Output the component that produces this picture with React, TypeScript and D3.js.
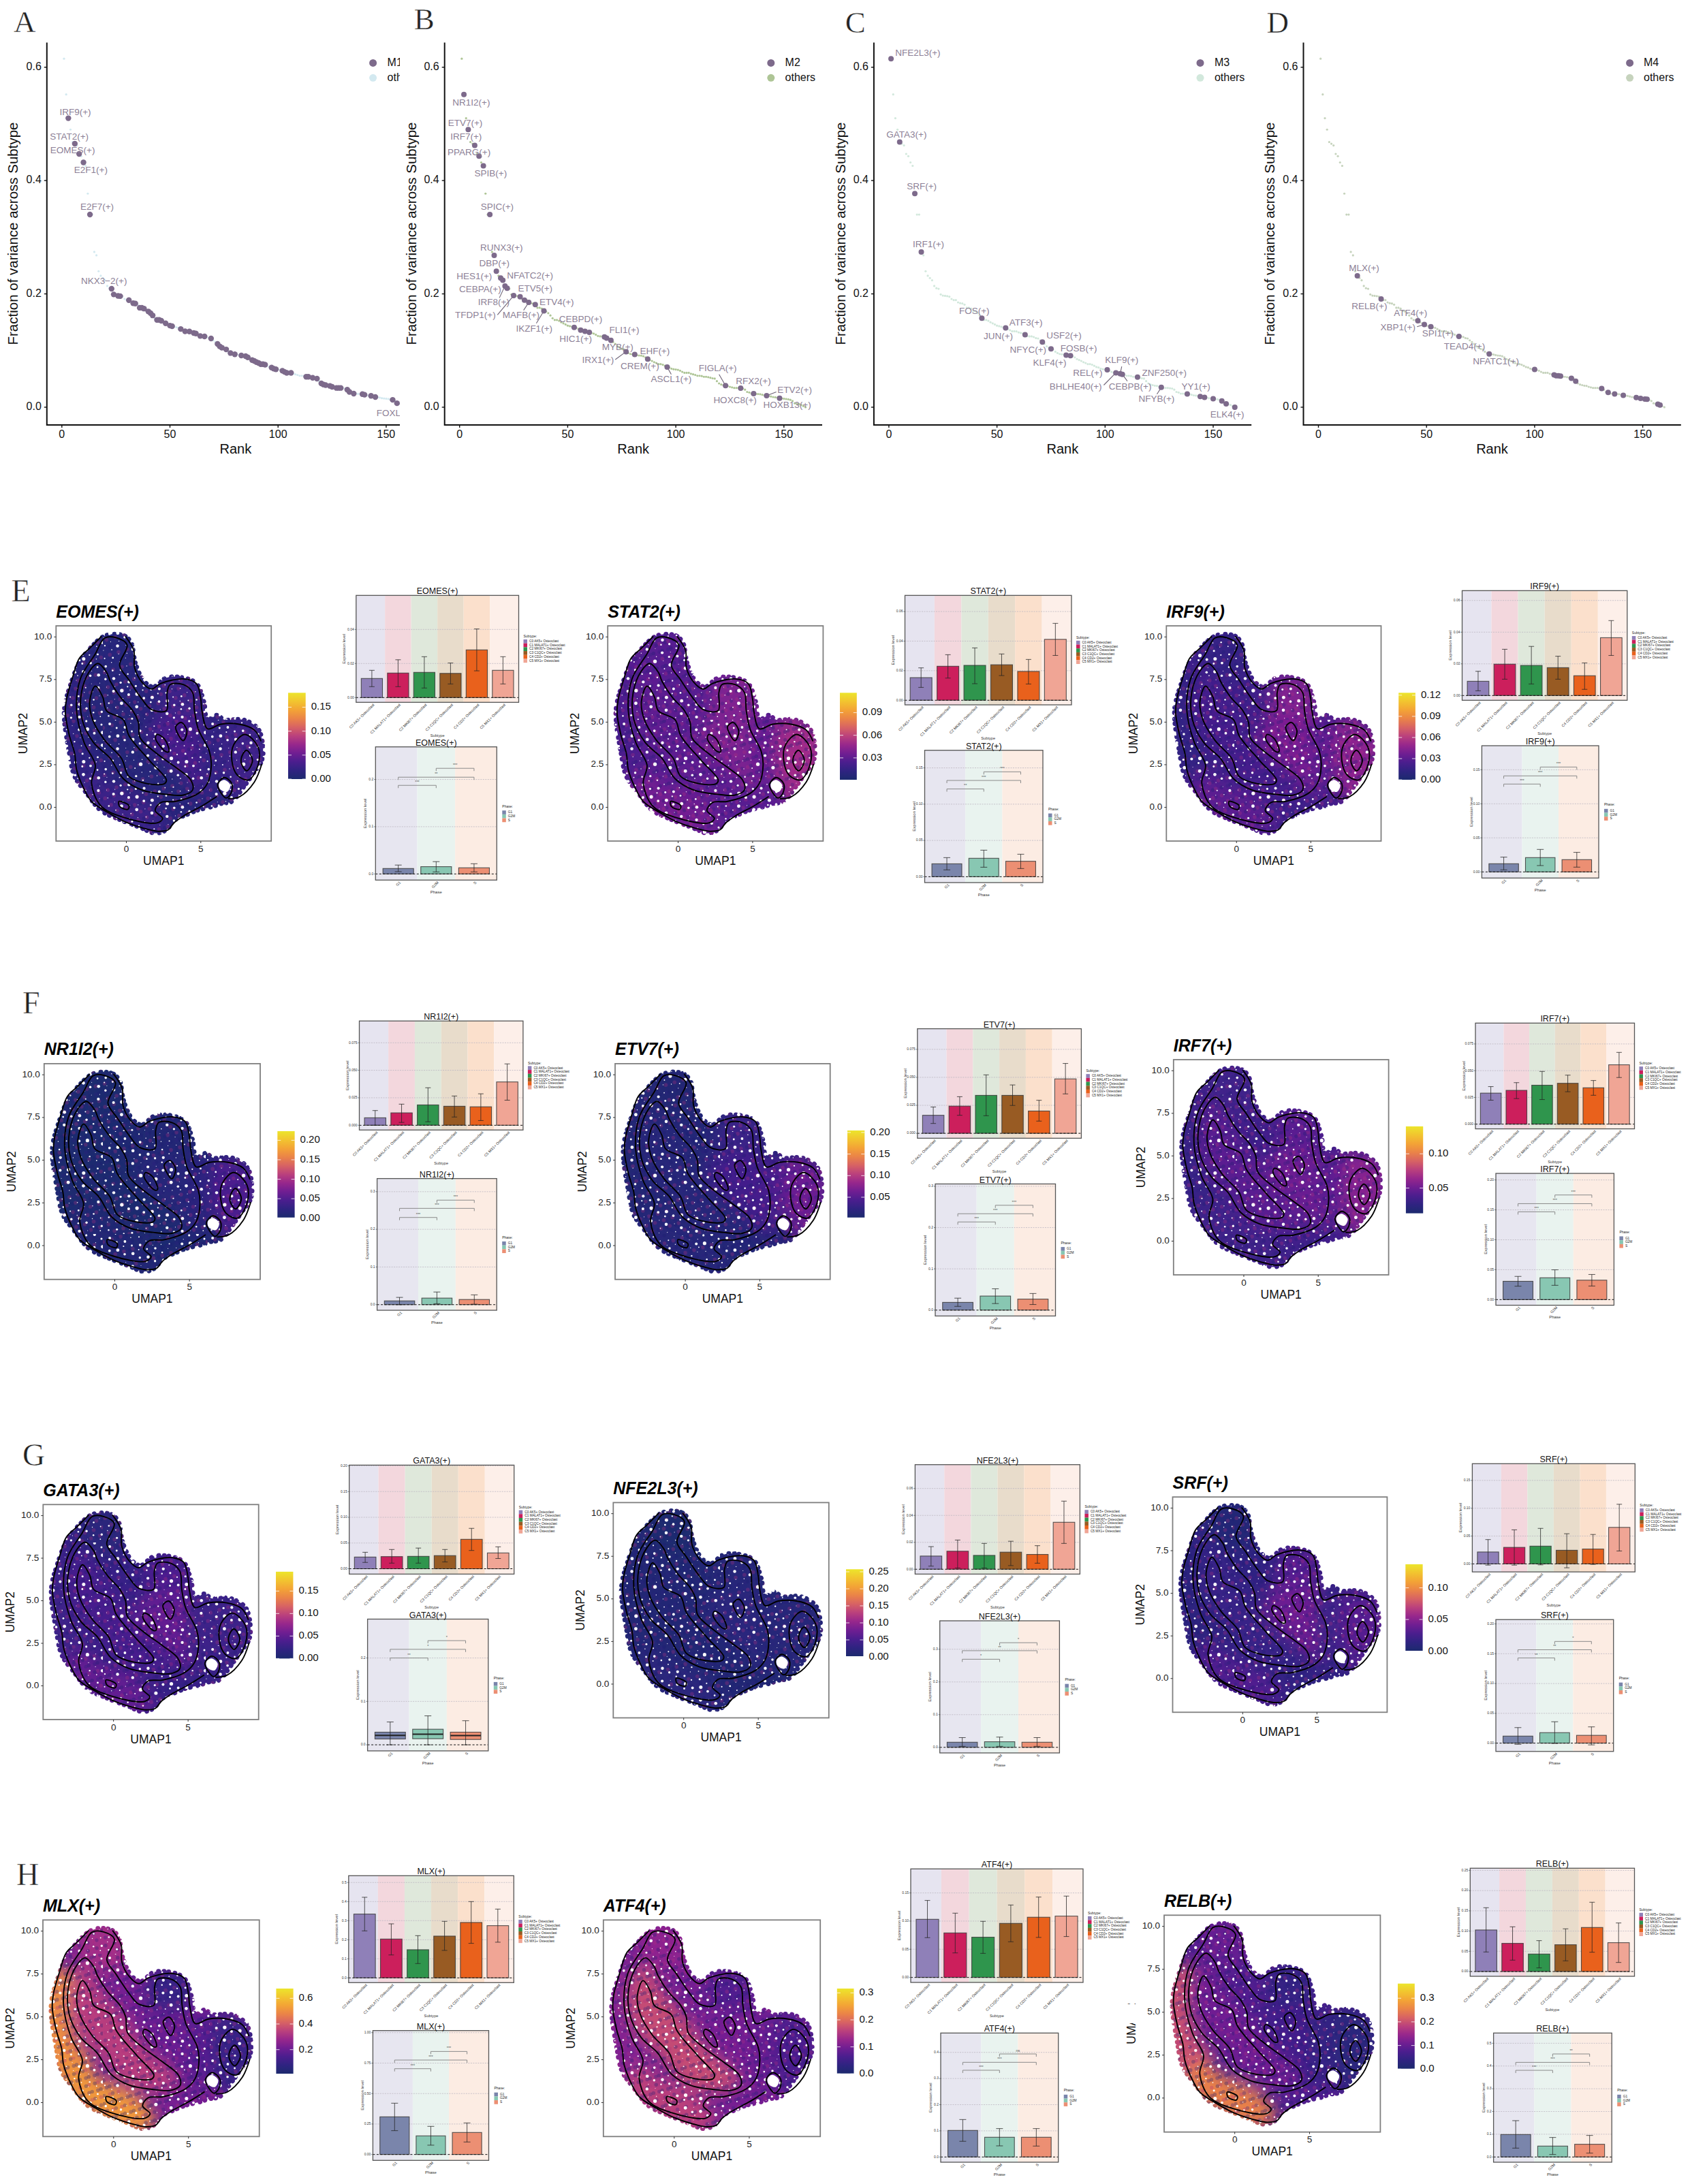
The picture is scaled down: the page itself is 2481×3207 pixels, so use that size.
import React from "react";
import * as d3 from "d3";

// ---------- shared data ----------
const variance = [
  .615,.552,.51,.49,.468,.465,.462,.447,.443,.432,
  .426,.377,.34,.34,.274,.268,.24,.232,.228,.224,
  .214,.21,.209,.199,.197,.1965,.196,.195,.191,.189,
  .189,.185,.1836,.183,.181,.1755,.1755,.174,.17,.169,
  .166,.162,.157,.154,.154,.1525,.15,.148,.146,.144,
  .143,.142,.141,.14,.138,.136,.134,.134,.1337,.132,
  .131,.13,.128,.1257,.125,.125,.124,.122,.1213,.118,
  .115,.1117,.1074,.105,.103,.102,.098,.0956,.094,.0934,
  .093,.092,.0913,.091,.09,.088,.085,.0832,.0816,.0795,
  .078,.076,.076,.075,.073,.071,.07,.068,.067,.0665,
  .066,.0644,.0623,.0607,.0607,.0607,.059,.058,.057,.0555,
  .0555,.055,.0537,.0537,.053,.052,.051,.0505,.046,.042,
  .04,.039,.038,.0376,.036,.035,.034,.034,.034,.0335,
  .033,.031,.027,.026,.024,.024,.0235,.0233,.023,.022,
  .021,.0205,.02,.019,.018,.0175,.017,.016,.0155,.015,
  .0145,.014,.013,.011,.007,.006,.0055,.004,.002,0,
];
const m1Ranks = [3,6,8,10,13,23,24,26,27,31,33,34,36,37,38,40,41,42,44,45,46,48,50,51,55,57,59,61,62,64,66,69,72,73,74,76,78,80,83,85,86,88,89,90,91,92,93,94,97,98,99,102,103,104,106,113,114,116,118,120,121,122,124,125,127,128,129,132,133,135,139,140,143,145,153,155];
const m2Ranks = [2,4,7,9,11,14,16,17,19,20,21,22,25,28,30,32,35,39,53,56,58,60,67,68,70,77,81,87,96,123,130,136,142,148];
const m3Ranks = [1,5,12,15,43,54,63,71,75,82,84,101,105,107,108,115,126,138,144,146,150,154,156,160];
const m4Ranks = [18,29,46,49,52,65,79,100,109,110,111,112,117,119,131,134,137,141,147,149,151,152,157,158];

type Lab = [string, number, number, number, number?, number?];
const m1Labels: Lab[] = [["IRF9(+)",3,6.2,.52],["STAT2(+)",6,3.4,.477],["EOMES(+)",8,5,.452],["E2F1(+)",10,13.4,.418],["E2F7(+)",13,16.3,.353],["NKX3\u22122(+)",23,19.5,.222],["FOXL1(+)",155,154.9,-.011]];
const m2Labels: Lab[] = [["NR1I2(+)",2,5.4,.537],["ETV7(+)",4,2.6,.501],["IRF7(+)",7,3,.476],["PPARG(+)",9,4.4,.449],["SPIB(+)",11,14.4,.412],["SPIC(+)",14,17.4,.353],["RUNX3(+)",16,19.4,.281],["DBP(+)",17,16.1,.253],["HES1(+)",19,6.8,.23],["NFATC2(+)",20,32.6,.231],["CEBPA(+)",21,9.5,.207,18.4,.193],["ETV5(+)",28,35,.208],["IRF8(+)",22,15.8,.184],["ETV4(+)",35,44.9,.185],["TFDP1(+)",25,7.3,.162,17.5,.163],["MAFB(+)",32,28.4,.162,29.6,.171],["IKZF1(+)",39,34.5,.138,35.5,.148],["CEBPD(+)",53,56,.154],["HIC1(+)",56,53.7,.12],["FLI1(+)",68,76.2,.135],["MYB(+)",70,73.1,.105],["IRX1(+)",77,64,.082,72,.084],["EHF(+)",87,90.3,.098],["CREM(+)",81,83.4,.072],["ASCL1(+)",96,97.9,.049,97.9,.058],["FIGLA(+)",123,119.4,.068,120,.058],["RFX2(+)",130,135.9,.045],["ETV2(+)",142,155,.029,146.5,.027],["HOXC8(+)",136,127.4,.011],["HOXB13(+)",148,151.5,.003]];
const m3Labels: Lab[] = [["NFE2L3(+)",1,13.4,.624],["GATA3(+)",5,8.2,.48],["SRF(+)",12,15.2,.389],["IRF1(+)",15,18.3,.287],["FOS(+)",43,39.5,.169],["ATF3(+)",54,63.4,.149],["JUN(+)",63,50.6,.125],["USF2(+)",71,81,.126],["NFYC(+)",75,64.4,.1],["FOSB(+)",84,87.8,.103],["KLF4(+)",82,74.4,.077],["REL(+)",101,92,.059],["KLF9(+)",107,107.7,.082,107.7,.072],["BHLHE40(+)",105,86.4,.036,99.4,.039],["CEBPB(+)",108,111.6,.036,110.3,.046],["ZNF250(+)",115,127.4,.059],["NFYB(+)",126,123.8,.014,124,.023],["YY1(+)",138,142,.036],["ELK4(+)",160,156.5,-.014]];
const m4Labels: Lab[] = [["MLX(+)",18,21.1,.244],["RELB(+)",29,23.6,.177],["ATF4(+)",46,42.6,.165],["XBP1(+)",49,36.8,.14,45.6,.142],["SPI1(+)",52,55.2,.129],["TEAD4(+)",65,67.6,.106],["NFATC1(+)",79,82.1,.08]];

const rankTicks = [0,50,100,150];
const fractionTicks = [0,.2,.4,.6];
const moduleNames = ["M1","M2","M3","M4"];

const subtypes = ["C0 AK5+ Osteoclast","C1 MALAT1+ Osteoclast","C2 MKI67+ Osteoclast","C3 C1QC+ Osteoclast","C4 CD2+ Osteoclast","C5 MX1+ Osteoclast"];
const phases = ["G1","G2M","S"];
const genes = ["EOMES(+)","STAT2(+)","IRF9(+)","NR1I2(+)","ETV7(+)","IRF7(+)","GATA3(+)","NFE2L3(+)","SRF(+)","MLX(+)","ATF4(+)","RELB(+)"];

const subtypeMean = [[.0112,.0144,.0148,.0142,.028,.016],[.0153,.023,.0236,.024,.0195,.0412],[.009,.0198,.019,.0176,.0125,.0365],[.0068,.0113,.0185,.0173,.0168,.0394],[.0161,.0243,.0339,.0339,.0199,.0486],[.029,.0316,.0364,.0382,.034,.0555],[.0227,.0236,.0241,.0255,.0572,.0307],[.0098,.0134,.0103,.0127,.011,.0349],[.0214,.0297,.0319,.0245,.0267,.0656],[.3345,.2036,.1476,.219,.2905,.2738],[.1032,.079,.0714,.096,.1069,.1089],[.1027,.0696,.0432,.0662,.1089,.0713]];
const subtypeLow = [[.0064,.0064,.0056,.008,.0157,.008],[.0087,.015,.0112,.0167,.011,.0303],[.003,.0103,.0073,.0103,.0039,.0253],[0,.0026,.0032,.0075,.0043,.0228],[.0088,.0161,.0157,.0249,.0109,.0352],[.0224,.0239,.023,.0303,.027,.0436],[.0123,.0109,.0109,.0132,.0355,.0199],[.0023,.0009,.0009,.0027,.0045,.0192],[-.0022,-.0022,-.0017,-.007,-.0009,.0232],[.2464,.1202,.075,.144,.181,.187],[.0706,.0435,.0427,.0633,.071,.0726],[.0483,.0281,.009,.0264,.0477,.0224]];
const subtypeHigh = [[.016,.0222,.024,.0203,.0403,.024],[.0219,.0308,.0354,.0313,.0276,.052],[.0153,.0292,.031,.0248,.0206,.0473],[.0134,.0192,.0341,.0266,.0286,.0558],[.0235,.0327,.0522,.0432,.0295,.0624],[.0351,.0388,.0493,.0458,.0408,.0671],[.032,.0374,.0402,.0374,.0785,.0426],[.0168,.0217,.0192,.0208,.0175,.0506],[.0437,.0612,.0638,.0542,.0529,.1071],[.4226,.2833,.2214,.2964,.4,.3607],[.1367,.1141,.0996,.1286,.1427,.1444],[.1577,.1105,.0763,.1055,.1712,.12]];
const phaseMean = [[.0115,.0154,.013],[.0178,.0254,.0213],[.012,.021,.018],[.01,.0174,.0137],[.0188,.0341,.0267],[.0306,.0365,.0325],[.0291,.0359,.0291],[.0156,.0171,.0156],[.0118,.0176,.0131],[.309,.1527,.1806],[.1016,.0755,.0755],[.0988,.0479,.0559]];
const phaseLow = [[.0048,.0043,.0043],[.0094,.0131,.0113],[.003,.0093,.007],[0,.0025,.0012],[.0091,.0159,.0136],[.0224,.0239,.0227],[0,0,0],[.003,.003,.003],[-.002,-.0004,-.0029],[.1955,.0764,.1024],[.06,.0425,.0417],[.0389,.011,.017]];
const phaseHigh = [[.0188,.026,.0216],[.0263,.0366,.031],[.0217,.033,.0287],[.0193,.0336,.026],[.029,.0517,.0403],[.0388,.0498,.042],[.0526,.0667,.0555],[.0298,.0313,.0298],[.0261,.0359,.0273],[.4209,.231,.2588],[.1432,.1085,.1085],[.1597,.0858,.0948]];
const gata3BoxLow = [.0134,.014,.0123];
const gata3BoxMid = [.0218,.0246,.0213];
const bracketLevels = [[.1875,.2048,.2236],[.121,.1327,.1446],[.129,.141,.154],[.2315,.2557,.2775],[.2136,.2335,.254],[.1467,.1604,.1749],[.2,.22,.24],[.2695,.2956,.32],[.1429,.1567,.1706],[.704,.775,.8455],[.3316,.362,.394],[.381,.416,.453]];
const bracketStars = [["***","**","***"],["**","***","***"],["***","***","***"],["***","***","***"],["***","***","***"],["***","***","***"],["**","*","*"],["*","**","*"],["**","**","*"],["***","***","***"],["***","***","ns"],["***","***","**"]];

const topDomains = [[-.0028,.06],[-.0031,.0709],[-.003,.0662],[-.0043,.0948],[-.0044,.0934],[-.0044,.0945],[-.0104,.2014],[-.0036,.0777],[-.0144,.18],[-.025,.5357],[-.0089,.1927],[-.0118,.2553]];
const topTicks = [[0,.02,.04],[0,.02,.04,.06],[0,.02,.04,.06],[0,.025,.05,.075],[0,.025,.05,.075],[0,.025,.05,.075],[0,.05,.1,.15,.2],[0,.02,.04,.06],[0,.05,.1,.15],[0,.1,.2,.3,.4,.5],[0,.05,.1,.15],[0,.05,.1,.15,.2,.25]];
const topDigits = [2,2,2,3,3,3,2,2,2,1,2,2];
const bottomDomains = [[-.013,.269],[-.0081,.1743],[-.009,.1853],[-.0149,.3348],[-.0142,.3057],[-.0094,.211],[-.014,.2896],[-.0171,.387],[-.0139,.2073],[-.0484,1.017],[-.02,.474],[-.023,.545]];
const bottomTicks = [[0,.1,.2],[0,.05,.1,.15],[0,.05,.1,.15],[0,.1,.2,.3],[0,.1,.2,.3],[0,.05,.1,.15,.2],[0,.1,.2],[0,.1,.2,.3],[0,.05,.1,.15,.2],[0,.25,.5,.75,1],[0,.1,.2,.3,.4],[0,.1,.2,.3,.4,.5]];
const bottomDigits = [1,2,2,1,1,2,1,1,2,2,1,1];
const colorDomains = [[0,.18],[.001,.1163],[0,.1234],[.0017,.2234],[.003,.2046],[.0132,.14],[0,.193],[.002,.2574],[.0006,.1372],[.0127,.676],[.0015,.316],[.0017,.362]];
const colorTicks = [[0,.05,.1,.15],[.03,.06,.09],[0,.03,.06,.09,.12],[0,.05,.1,.15,.2],[.05,.1,.15,.2],[.05,.1],[0,.05,.1,.15],[0,.05,.1,.15,.2,.25],[0,.05,.1],[.2,.4,.6],[0,.1,.2,.3],[0,.1,.2,.3]];
const colorDigits = [2,2,2,2,2,2,2,2,2,1,1,1];
const umapXTicks = [0,5];
const umapYTicks = [0,2.5,5,7.5,10];

// Approximate mean activity in each area of the embedding, read by eye from the colours:
// overall, top, left edge, lower left, main ridge, centre, upper right lobe, bridge, right cluster
const regionActivity = [
  [.012,.012,.018,.026,.010,.034,.028,.020,.030],
  [.028,.028,.024,.036,.030,.040,.040,.032,.050],
  [.020,.016,.014,.030,.022,.040,.042,.030,.046],
  [.006,.004,.004,.008,.004,.014,.010,.020,.046],
  [.012,.008,.010,.014,.014,.038,.032,.040,.060],
  [.034,.034,.030,.034,.044,.050,.044,.044,.058],
  [.026,.014,.030,.052,.036,.052,.040,.030,.030],
  [.010,.005,.010,.022,.010,.022,.016,.016,.016],
  [.015,.006,.012,.030,.020,.040,.032,.022,.032],
  [.22,.30,.50,.52,.34,.20,.10,.17,.10],
  [.10,.12,.11,.16,.17,.10,.07,.09,.065],
  [.08,.10,.20,.25,.11,.065,.045,.045,.03],
];

// Shape of the embedding, traced on the EOMES panel and calibrated with traceX / traceY below
type P = [number, number];
const cloudOutline: P[] = [[300,303],[335,312],[352,345],[358,400],[365,445],[385,510],[410,535],[445,495],[490,495],[525,520],[545,600],[555,680],[580,660],[600,680],[650,680],[690,720],[703,800],[700,860],[680,910],[650,980],[620,1040],[590,1050],[570,1062],[530,1078],[500,1098],[465,1125],[445,1165],[415,1180],[375,1155],[320,1120],[270,1080],[230,1000],[200,930],[185,820],[172,640],[190,520],[215,420],[250,350],[275,315]];
const contourOpen: P[][] = [
  [[272,312],[240,365],[212,410],[195,490],[178,590],[175,650],[185,745],[200,830],[205,900],[222,975],[245,1040],[290,1090],[335,1130],[400,1165],[425,1172],[450,1165],[465,1135],[490,1105],[540,1060],[580,1018]],
  [[335,312],[358,375],[360,450],[380,515],[405,545],[430,520],[490,500],[525,520],[537,590],[540,640],[555,720],[590,700],[640,700],[680,725],[698,775]],
  [[700,875],[680,955],[640,1020],[610,1028]],
];
const contourClosed: P[][] = [
  [[445,640],[447,560],[455,525],[490,525],[515,560],[520,640],[530,720],[560,820],[565,880],[555,960],[530,1005],[470,1040],[430,1045],[415,1080],[435,1115],[420,1135],[330,1110],[270,1060],[245,960],[255,880],[225,780],[205,640],[215,500],[255,390],[280,320],[310,318],[340,350],[320,440],[345,505],[380,590],[405,635]],
  [[262,432],[285,470],[295,510],[322,580],[355,640],[370,690],[375,760],[420,830],[470,890],[510,945],[515,990],[490,1012],[440,1008],[380,990],[330,940],[295,850],[250,780],[220,680],[218,560],[240,465]],
  [[255,532],[275,580],[285,640],[330,680],[345,750],[400,860],[445,945],[440,962],[395,962],[345,930],[325,850],[280,770],[248,680],[240,600]],
  [[485,692],[500,730],[490,772],[475,740],[470,710]],
  [[420,745],[440,765],[452,820],[445,822],[425,790],[416,762]],
  [[318,1040],[345,1058],[342,1075],[320,1062]],
  [[655,745],[690,800],[690,880],[665,945],[635,925],[620,860],[625,790]],
  [[660,815],[675,860],[660,905],[645,870],[650,830]],
  [[600,935],[620,962],[618,1003],[605,1025],[590,1000],[582,965]],
];
const holeOutline: P[] = [[600,945],[616,968],[607,998],[588,985],[586,958]];
const regionOutlines: P[][] = [
  [[255,290],[360,290],[375,450],[320,500],[250,440]],
  [[190,470],[140,640],[150,820],[175,950],[240,1010],[280,900],[240,800],[215,650],[230,520]],
  [[205,1000],[270,1110],[400,1200],[450,1150],[400,1040],[300,960],[245,900]],
  [[255,450],[300,560],[370,700],[440,850],[510,960],[470,1020],[370,990],[300,860],[240,760],[215,620]],
  [[420,660],[530,640],[565,860],[540,1000],[480,900],[400,780]],
  [[445,480],[535,500],[550,640],[430,640]],
  [[540,700],[620,680],[600,900],[560,1040]],
  [[620,670],[720,740],[720,880],[640,1050],[600,900]],
];
const traceX = d3.scaleLinear().domain([338, 537]).range([0, 5]);
const traceY = d3.scaleLinear().domain([1066, 315]).range([0, 10]);

// ---------- layout and style ----------
const rankLayout = [
  { axisX: 68.8, titleX: 21, legendDotX: 547.6, legendTextX: 568.6, letter: "A", letterX: 20, letterY: 47, others: "#d3e9f0", labels: m1Labels, ranks: m1Ranks, clipRight: 587 },
  { axisX: 652.7, titleX: 605.3, legendDotX: 1131.8, legendTextX: 1152.6, letter: "B", letterX: 607.8, letterY: 43, others: "#aec596", labels: m2Labels, ranks: m2Ranks },
  { axisX: 1282.9, titleX: 1235.5, legendDotX: 1762, legendTextX: 1782.9, letter: "C", letterX: 1240.8, letterY: 48, others: "#d2e8dc", labels: m3Labels, ranks: m3Ranks },
  { axisX: 1913.5, titleX: 1865.7, legendDotX: 2392.6, legendTextX: 2413, letter: "D", letterX: 1859.6, letterY: 48, others: "#c6d3bd", labels: m4Labels, ranks: m4Ranks },
];
const rowLetters = [["E",16.5,883],["F",33,1488],["G",33,2152],["H",24,2768]] as [string,number,number][];

type Box = [number, number, number, number];
const umapBoxes: Box[] = [[82.3,398.2,919,1235],[892.2,1208.4,919,1235],[1712.3,2027.5,919,1235],[64.8,382,1561.9,1878.7],[903,1218.7,1561.9,1878.7],[1722.8,2038.6,1556,1872],[63.3,379.7,2209.3,2525],[900.3,1216.8,2206.4,2522.5],[1721.5,2036.4,2198.2,2514.3],[63,380.7,2819.3,3137.3],[885.8,1204.2,2819.3,3137.3],[1709,2026.4,2812.3,3130.7]];
const colorBoxes: Box[] = [[423,448.7,1017.3,1144],[1233,1257.8,1017.3,1145],[2053.2,2077.9,1017.3,1145],[407.3,432.6,1661,1787.8],[1244,1269.3,1660,1787.8],[2063.9,2089.2,1654,1781.6],[405,430.4,2307.9,2435.4],[1242,1267.4,2304.3,2432],[2063.3,2088.6,2297,2424],[405.4,430.6,2920,3045],[1228.8,1253.5,2920,3044.7],[2052,2076.8,2912.7,3037.7]];
const topBoxes: Box[] = [[522.8,761.5,874.3,1031.3],[1328.5,1573,874.3,1035],[2146.5,2388.8,867.3,1028.3],[527.5,767.9,1499.2,1659.3],[1346.8,1587.4,1510.6,1671.4],[2166,2399.5,1502.3,1657.6],[512.7,754.7,2151.4,2311.4],[1343.4,1585.4,2150.7,2311.4],[2161.4,2400.3,2149.3,2308.2],[511.8,754.3,2754.3,2911.3],[1337,1590,2744.3,2911],[2158.3,2399.5,2743.3,2902]];
const bottomBoxes: Box[] = [[551.3,729.3,1096.7,1292.3],[1357.5,1531,1101.7,1296],[2175.4,2347,1095,1289.3],[553.6,729.2,1730.6,1924],[1373,1549.5,1738.5,1932.4],[2196,2369.4,1723,1916.6],[539.6,716.8,2377.5,2571],[1379.7,1555.4,2380,2574],[2196,2368.7,2378.2,2571.8],[547.4,717.5,2981.7,3172.3],[1381,1553.7,2985.3,3175],[2192.6,2366.2,2985.3,3175]];

const DOT = "#7d6a8b";
const LABEL = "#8c7f96";
const SUBTYPE_BG = ["#e6e4f0","#f3d7dd","#dfe8db","#e8dccb","#fbe0cc","#fdefe9"];
const SUBTYPE_FILL = ["#8f80b8","#cc1f5c","#2f954d","#985b23","#e9611c","#f0a595"];
const PHASE_BG = ["#e7e6f0","#e9f3ef","#fcece3"];
const PHASE_FILL = ["#7a85ab","#88c7b2","#ec8f73"];
const RAMP = ["#1c2a6e","#35208a","#6a1b96","#a3268c","#d2586f","#f0893f","#f6b52f","#ece52c"];
const SANS = "Liberation Sans, Arial, sans-serif";
const ramp = d3.interpolateRgbBasis(RAMP);

// ---------- rank charts ----------
function RankChart({ cfg, index }: { cfg: typeof rankLayout[number]; index: number }) {
  const x = d3.scaleLinear().domain([-6.93, 167.7]).range([cfg.axisX, cfg.axisX + 554.3]);
  const y = d3.scaleLinear().domain([-.0313, .6435]).range([624, 62.5]);
  const highlighted = new Set(cfg.ranks);
  const rows = variance.map((v, i) => ({ rank: i + 1, v }));
  const clipId = `rank-clip-${index}`;
  const right = x.range()[1];
  return (
    <g clipPath={cfg.clipRight ? `url(#${clipId})` : undefined} fontFamily={SANS}>
      {cfg.clipRight && <clipPath id={clipId}><rect x={0} y={0} width={cfg.clipRight} height={700} /></clipPath>}
      {rows.filter(d => !highlighted.has(d.rank)).map(d => <circle key={d.rank} cx={x(d.rank)} cy={y(d.v)} r={1.6} fill={cfg.others} />)}
      {cfg.labels.filter(l => l[4] !== undefined).map(l => (
        <line key={l[0]} x1={x(l[4]!)} y1={y(l[5]!)} x2={x(l[1])} y2={y(variance[l[1] - 1])} stroke="#6d6275" strokeWidth={1.1} />
      ))}
      {cfg.ranks.map(r => <circle key={r} cx={x(r)} cy={y(variance[r - 1])} r={index === 0 ? 4.2 : 4} fill={DOT} />)}
      {cfg.labels.map(l => (
        <text key={l[0]} x={x(l[2])} y={y(l[3])} textAnchor="middle" dominantBaseline="middle" fontSize={13.5} fill={LABEL}>{l[0]}</text>
      ))}
      <path d={`M${cfg.axisX},62.5V624H${right}`} fill="none" stroke="#111" strokeWidth={2} />
      {fractionTicks.map(t => (
        <g key={t}>
          <line x1={cfg.axisX - 4} x2={cfg.axisX} y1={y(t)} y2={y(t)} stroke="#111" strokeWidth={1.4} />
          <text x={cfg.axisX - 8} y={y(t)} textAnchor="end" dominantBaseline="middle" fontSize={16} fill="#111">{t.toFixed(1)}</text>
        </g>
      ))}
      {rankTicks.map(t => (
        <g key={t}>
          <line x1={x(t)} x2={x(t)} y1={624} y2={628} stroke="#111" strokeWidth={1.4} />
          <text x={x(t)} y={639} textAnchor="middle" dominantBaseline="middle" fontSize={16} fill="#111">{t}</text>
        </g>
      ))}
      <text x={cfg.axisX + 277} y={661} textAnchor="middle" dominantBaseline="middle" fontSize={20} fill="#111">Rank</text>
      <text transform={`translate(${cfg.titleX},343) rotate(-90)`} textAnchor="middle" dominantBaseline="middle" fontSize={20.5} fill="#111">Fraction of variance across Subtype</text>
      <circle cx={cfg.legendDotX} cy={92.4} r={5.5} fill={DOT} />
      <circle cx={cfg.legendDotX} cy={114.3} r={5.5} fill={cfg.others} />
      <text x={cfg.legendTextX} y={92.4} dominantBaseline="middle" fontSize={16} fill="#111">{moduleNames[index]}</text>
      <text x={cfg.legendTextX} y={114.3} dominantBaseline="middle" fontSize={16} fill="#111">others</text>
    </g>
  );
}

// ---------- UMAP panels ----------
function UmapPanel({ i }: { i: number }) {
  const [x0, x1, y0, y1] = umapBoxes[i];
  const ux = d3.scaleLinear().domain([-4.72, 9.73]).range([x0, x1]);
  const uy = d3.scaleLinear().domain([-1.98, 10.65]).range([y1, y0]);
  const px = (p: P): P => [ux(traceX(p[0])), uy(traceY(p[1]))];
  const closed = d3.line().curve(d3.curveCatmullRomClosed.alpha(0.5));
  const open = d3.line().curve(d3.curveCatmullRom.alpha(0.5));
  const [cb0, cb1, cy0, cy1] = colorBoxes[i];
  const cbScale = d3.scaleLinear().domain(colorDomains[i]).range([cy1, cy0]);
  const colour = (v: number) => ramp(Math.max(0, Math.min(1, (v - colorDomains[i][0]) / (colorDomains[i][1] - colorDomains[i][0]))));
  const activity = regionActivity[i];
  const cloud = closed(cloudOutline.map(px))!;
  const gid = `gene-${i}`;
  const stops = d3.range(0, 1.0001, 0.1);
  const fmt = d3.format(`.${colorDigits[i]}f`);
  return (
    <g fontFamily={SANS}>
      <defs>
        <mask id={`${gid}-cloud`} maskUnits="userSpaceOnUse" x={x0} y={y0} width={x1 - x0} height={y1 - y0}>
          <path d={cloud} fill="#fff" stroke="#fff" strokeWidth={7} strokeLinecap="round" strokeDasharray="0.1 6.5 0.1 9.5 0.1 7.5 0.1 11 0.1 8" />
          <rect x={x0} y={y0} width={x1 - x0} height={y1 - y0} fill="url(#specks)" />
        </mask>
        <linearGradient id={`${gid}-bar`} x1="0" y1="1" x2="0" y2="0">
          {stops.map(s => <stop key={s} offset={s} stopColor={ramp(s)} />)}
        </linearGradient>
      </defs>
      <text x={x0} y={y0 - 12.5} fontSize={25} fontWeight="bold" fontStyle="italic" fill="#000">{genes[i]}</text>
      <rect x={x0} y={y0} width={x1 - x0} height={y1 - y0} fill="#fff" stroke="#7f7f7f" strokeWidth={1.8} />
      <g mask={`url(#${gid}-cloud)`}>
        <rect x={x0} y={y0} width={x1 - x0} height={y1 - y0} fill={colour(activity[0])} />
        <g filter="url(#soft)">
          {regionOutlines.map((r, k) => <path key={k} d={closed(r.map(px))!} fill={colour(activity[k + 1])} />)}
        </g>
        <rect x={x0} y={y0} width={x1 - x0} height={y1 - y0} fill="url(#shade)" />
      </g>
      <path d={closed(holeOutline.map(px))!} fill="#fff" />
      {contourClosed.map((c, k) => <path key={k} d={closed(c.map(px))!} fill="none" stroke="#000" strokeWidth={1.9} />)}
      {contourOpen.map((c, k) => <path key={k} d={open(c.map(px))!} fill="none" stroke="#000" strokeWidth={1.9} />)}
      {umapXTicks.map(t => (
        <g key={t}>
          <line x1={ux(t)} x2={ux(t)} y1={y1} y2={y1 + 3} stroke="#333" />
          <text x={ux(t)} y={y1 + 12} textAnchor="middle" dominantBaseline="middle" fontSize={13.5} fill="#222">{t}</text>
        </g>
      ))}
      {umapYTicks.map(t => (
        <g key={t}>
          <line x1={x0 - 3} x2={x0} y1={uy(t)} y2={uy(t)} stroke="#333" />
          <text x={x0 - 6} y={uy(t)} textAnchor="end" dominantBaseline="middle" fontSize={13.5} fill="#222">{t.toFixed(1)}</text>
        </g>
      ))}
      <text x={(x0 + x1) / 2} y={y1 + 30} textAnchor="middle" dominantBaseline="middle" fontSize={17.5} fill="#111">UMAP1</text>
      <text transform={`translate(${x0 - 46.5},${(y0 + y1) / 2}) rotate(-90)`} textAnchor="middle" dominantBaseline="middle" fontSize={17.5} fill="#111">UMAP2</text>
      <rect x={cb0} y={cy0} width={cb1 - cb0} height={cy1 - cy0} fill={`url(#${gid}-bar)`} />
      {colorTicks[i].map(t => (
        <g key={t}>
          <line x1={cb0} x2={cb0 + 5} y1={cbScale(t)} y2={cbScale(t)} stroke="#fff" strokeOpacity={.8} />
          <line x1={cb1 - 5} x2={cb1} y1={cbScale(t)} y2={cbScale(t)} stroke="#fff" strokeOpacity={.8} />
          <text x={cb1 + 8} y={cbScale(t)} dominantBaseline="middle" fontSize={15} fill="#111">{fmt(t)}</text>
        </g>
      ))}
    </g>
  );
}

// ---------- bar charts ----------
function BarChart({ i, kind }: { i: number; kind: "subtype" | "phase" }) {
  const isTop = kind === "subtype";
  const [x0, x1, y0, y1] = isTop ? topBoxes[i] : bottomBoxes[i];
  const cats = isTop ? subtypes : phases;
  const mean = isTop ? subtypeMean[i] : phaseMean[i];
  const low = isTop ? subtypeLow[i] : phaseLow[i];
  const high = isTop ? subtypeHigh[i] : phaseHigh[i];
  const bg = isTop ? SUBTYPE_BG : PHASE_BG;
  const fill = isTop ? SUBTYPE_FILL : PHASE_FILL;
  const ticks = isTop ? topTicks[i] : bottomTicks[i];
  const fmt = d3.format(`.${isTop ? topDigits[i] : bottomDigits[i]}f`);
  const y = d3.scaleLinear().domain(isTop ? topDomains[i] : bottomDomains[i]).range([y1, y0]);
  const x = d3.scaleBand<string>().domain(cats).range([x0, x1]).paddingInner(0).paddingOuter(0.1);
  const step = x.step();
  const cx = (c: string) => x(c)! + step / 2;
  const barW = step * 0.81;
  const capW = isTop ? 8 : 10;
  const mid = (y0 + y1) / 2;
  const isBox = !isTop && genes[i] === "GATA3(+)";
  const brackets = bracketLevels[i];
  const pairs: [number, number][] = [[0, 1], [0, 2], [1, 2]];
  return (
    <g fontFamily={SANS}>
      {cats.map((c, k) => {
        const l = k === 0 ? x0 : x(c)!;
        const r = k === cats.length - 1 ? x1 : x(c)! + step;
        return <rect key={c} x={l} y={y0} width={r - l} height={y1 - y0} fill={bg[k]} />;
      })}
      {ticks.filter(t => t !== 0).map(t => <line key={t} x1={x0} x2={x1} y1={y(t)} y2={y(t)} stroke="#bdb8c2" strokeWidth={.8} strokeDasharray="2 1.5" />)}
      {cats.map((c, k) => {
        const base = isBox ? gata3BoxLow[k] : 0;
        return (
          <g key={c}>
            <rect x={cx(c) - barW / 2} y={y(mean[k])} width={barW} height={y(base) - y(mean[k])} fill={fill[k]} stroke="#3a3a3a" strokeOpacity={.85} strokeWidth={1.1} />
            {isBox && <line x1={cx(c) - barW / 2} x2={cx(c) + barW / 2} y1={y(gata3BoxMid[k])} y2={y(gata3BoxMid[k])} stroke="#222" strokeWidth={2} />}
            <line x1={cx(c)} x2={cx(c)} y1={y(low[k])} y2={y(high[k])} stroke="#222" strokeOpacity={.75} strokeWidth={1} />
            <line x1={cx(c) - capW / 2} x2={cx(c) + capW / 2} y1={y(low[k])} y2={y(low[k])} stroke="#222" strokeOpacity={.75} strokeWidth={1} />
            <line x1={cx(c) - capW / 2} x2={cx(c) + capW / 2} y1={y(high[k])} y2={y(high[k])} stroke="#222" strokeOpacity={.75} strokeWidth={1} />
          </g>
        );
      })}
      <line x1={x0} x2={x1} y1={y(0)} y2={y(0)} stroke="#111" strokeWidth={1} strokeDasharray="3 2.5" />
      {!isTop && pairs.map(([a, b], k) => {
        const xa = cx(cats[a]), xb = cx(cats[b]), yb = y(brackets[k]);
        return (
          <g key={k}>
            <path d={`M${xa},${yb + 4}V${yb}H${xb}V${yb + 4}`} fill="none" stroke="#8a8a8a" strokeWidth={1} />
            <text x={(xa + xb) / 2} y={yb - 3} textAnchor="middle" fontSize={5.5} fill="#555">{bracketStars[i][k]}</text>
          </g>
        );
      })}
      <rect x={x0} y={y0} width={x1 - x0} height={y1 - y0} fill="none" stroke="#555" strokeWidth={1.3} />
      <text x={(x0 + x1) / 2} y={y0 - 2} textAnchor="middle" fontSize={12.5} fill="#111">{genes[i]}</text>
      {ticks.map(t => (
        <g key={t}>
          <line x1={x0 - 2} x2={x0} y1={y(t)} y2={y(t)} stroke="#444" strokeWidth={.7} />
          <text x={x0 - 3} y={y(t)} textAnchor="end" dominantBaseline="middle" fontSize={5} fill="#333">{fmt(t)}</text>
        </g>
      ))}
      {cats.map(c => (
        <text key={c} transform={`translate(${cx(c) + 3},${y1 + (isTop ? 3 : 3)}) rotate(-45)`} textAnchor="end" dominantBaseline="middle" fontSize={5.5} fill="#333">{c}</text>
      ))}
      <text transform={`translate(${x0 - (isTop ? 17 : 14.6)},${mid}) rotate(-90)`} textAnchor="middle" dominantBaseline="middle" fontSize={6} fill="#333">Expression level</text>
      <text x={(x0 + x1) / 2} y={y1 + (isTop ? 49 : 18)} textAnchor="middle" dominantBaseline="middle" fontSize={isTop ? 5.7 : 6} fill="#333">{isTop ? "Subtype" : "Phase"}</text>
      <text x={x1 + (isTop ? 7 : 8)} y={mid + (isTop ? -18 : -10)} dominantBaseline="middle" fontSize={5} fill="#222">{isTop ? "Subtype:" : "Phase:"}</text>
      {cats.map((c, k) => {
        const ry = mid + (isTop ? -11 + k * 5.7 : -1.5 + k * 5.7);
        return (
          <g key={c}>
            <rect x={x1 + (isTop ? 7 : 8)} y={ry - 2.85} width={5.5} height={5.7} fill={fill[k]} />
            <text x={x1 + (isTop ? 15.5 : 16.5)} y={ry} dominantBaseline="middle" fontSize={4.8} fill="#222">{c}</text>
          </g>
        );
      })}
    </g>
  );
}

// Texture only, not data: a fixed tile built from a low-discrepancy sequence that suggests
// the mottled dots and white gaps of the cell cloud.
const TILE = 151;
const frac = (v: number) => v - Math.floor(v);
const speckTile = d3.range(1, 210).map(n => ({ x: frac(n * .7548776662) * TILE, y: frac(n * .5698402910) * TILE, r: .55 + frac(n * .381966) * frac(n * .381966) * 2.1 }));
const shadeTile = d3.range(1, 300).map(n => ({ x: frac(n * .8191725) * TILE, y: frac(n * .6710436) * TILE, tone: n % 3 }));

export default function App() {
  return (
    <svg width={2481} height={3207} viewBox="0 0 2481 3207" style={{ position: "absolute", left: 0, top: 0, background: "#fff" }}>
      <defs>
        <filter id="soft" x="-20%" y="-20%" width="140%" height="140%"><feGaussianBlur stdDeviation="11" /></filter>
        <pattern id="specks" width={TILE} height={TILE} patternUnits="userSpaceOnUse">
          {speckTile.map((s, k) => <circle key={k} cx={s.x} cy={s.y} r={s.r} fill="#000" />)}
        </pattern>
        <pattern id="shade" width={TILE} height={TILE} patternUnits="userSpaceOnUse">
          {shadeTile.map((s, k) => <circle key={k} cx={s.x} cy={s.y} r={2.8} fill={["#1c1a70", "#b0307f", "#2a1f80"][s.tone]} fillOpacity={.3} />)}
        </pattern>
      </defs>
      {rankLayout.map((cfg, i) => <RankChart key={cfg.letter} cfg={cfg} index={i} />)}
      {rankLayout.map(cfg => <text key={cfg.letter} x={cfg.letterX} y={cfg.letterY} fontFamily="Liberation Serif, serif" fontSize={45} fill="#222" stroke="#fff" strokeWidth={.5}>{cfg.letter}</text>)}
      {rowLetters.map(([l, x, y]) => <text key={l} x={x} y={y} fontFamily="Liberation Serif, serif" fontSize={46} fill="#222" stroke="#fff" strokeWidth={.5}>{l}</text>)}
      {genes.map((g, i) => (
        <g key={g}>
          <UmapPanel i={i} />
          <BarChart i={i} kind="subtype" />
          <BarChart i={i} kind="phase" />
        </g>
      ))}
      <rect x={1652} y={2943} width={27} height={28} fill="#fff" />
    </svg>
  );
}
